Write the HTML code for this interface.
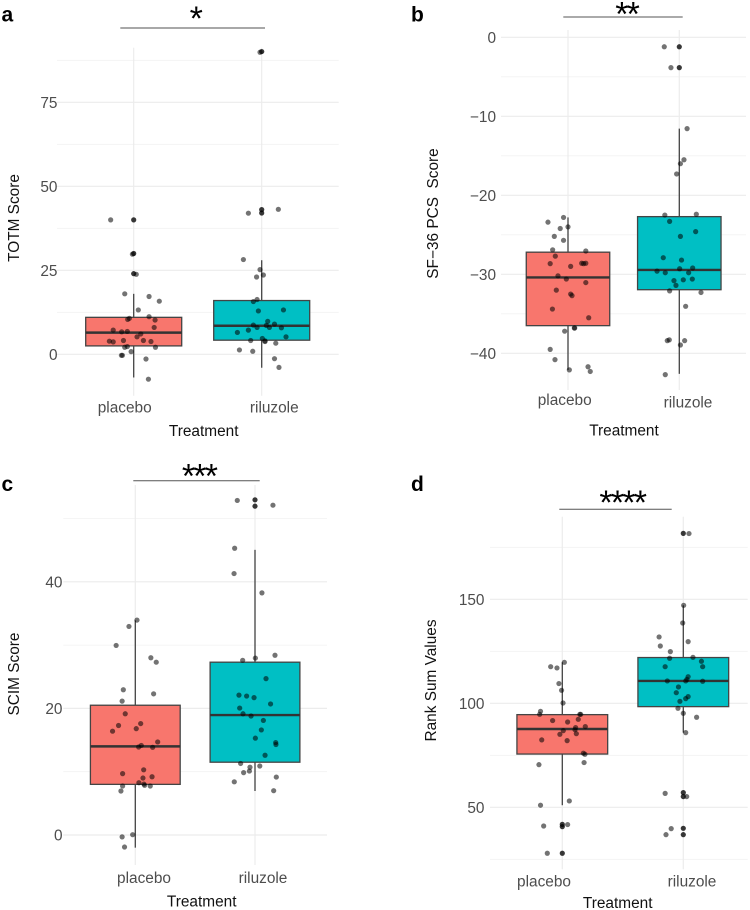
<!DOCTYPE html>
<html lang="en">
<head>
<meta charset="utf-8">
<title>Treatment comparison box plots</title>
<style>
html,body{margin:0;padding:0;background:#fff;}
svg{display:block;font-family:"Liberation Sans",sans-serif;filter:blur(0.35px);}
</style>
</head>
<body>
<svg id="figure" xmlns="http://www.w3.org/2000/svg" width="750" height="910" viewBox="0 0 750 910"></svg>
<script>
// Panel a: TOTM
const aMajorTicks = [0, 25, 50, 75];
const aMinorTicks = [12.5, 37.5, 62.5, 87.5];
const aPlaceboBox = [-6.9, 2.5, 6.45, 11.0, 18.0];
const aRiluzoleBox = [-4.0, 4.2, 8.5, 16.0, 28.0];
const aPlaceboOutliers = [40.0, 30.0, 24.0];
const aRiluzoleOutliers = [90.1, 43.06, 42.06];
const aPlaceboValues = [40.0, 29.8, 23.8, 18.0, 17.2, 15.8, 13.2, 11.2, 10.7, 10.4, 10.2, 8.0, 7.2, 6.7, 6.8, 6.05, 5.2, 3.9, 3.7, 4.1, 4.1, 3.8, 2.1, 2.3, 2.1, 0.8, -0.3, -0.3, -1.4, -7.4];
const aPlaceboJitter = [-0.18, -0.01, 0.02, -0.07, 0.12, 0.2, 0.036, 0.12, -0.034, -0.047, 0.167, 0.16, -0.16, -0.094, -0.05, 0.055, 0.026, -0.19, -0.16, -0.08, 0.076, 0.135, -0.07, -0.05, 0.17, -0.02, -0.096, -0.088, 0.096, 0.115];
const aRiluzoleValues = [89.9, 42.0, 43.15, 28.2, 25.2, 23.6, 23.0, 16.3, 15.7, 12.9, 13.2, 9.8, 9.0, 8.7, 8.0, 8.6, 8.0, 7.9, 7.2, 6.5, 5.2, 4.7, 4.1, 4.0, 3.8, 3.3, 1.3, 0.9, -1.3, -3.9];
const aRiluzoleJitter = [-0.013, -0.104, 0.13, -0.143, -0.013, 0.013, -0.04, -0.036, -0.065, -0.026, 0.17, 0.047, 0.1, -0.065, -0.036, 0.036, 0.06, 0.154, -0.104, -0.19, 0.19, 0.005, -0.086, 0.026, 0.026, 0.11, -0.174, -0.07, 0.1, 0.135];

// Panel b: SF-36 PCS
const bMajorTicks = [0, -10, -20, -30, -40];
const bMinorTicks = [-5, -15, -25, -35];
const bPlaceboBox = [-42.1, -36.5, -30.4, -27.2, -22.8];
const bRiluzoleBox = [-42.6, -31.95, -29.45, -22.7, -11.56];
const bPlaceboOutliers = [];
const bRiluzoleOutliers = [-1.2, -3.84];
const bPlaceboValues = [-23.4, -22.8, -24.0, -24.2, -25.2, -25.7, -26.9, -27.05, -27.7, -28.65, -29.0, -28.6, -28.65, -28.6, -30.2, -30.6, -31.05, -32.0, -32.5, -32.7, -34.4, -35.5, -36.8, -36.8, -37.2, -39.5, -40.8, -42.1, -41.7, -42.3];
const bPlaceboJitter = [-0.18, -0.04, 0, -0.07, -0.123, -0.04, -0.138, 0.16, -0.114, -0.16, 0.024, 0.123, 0.14, 0.16, -0.09, -0.015, 0.16, -0.105, 0.024, 0.036, -0.14, 0.186, 0.06, 0.057, -0.03, -0.16, -0.117, 0.012, 0.18, 0.2];
const bRiluzoleValues = [-1.2, -3.84, -11.56, -15.5, -16.0, -17.3, -22.5, -22.4, -23.3, -24.6, -25.2, -27.9, -28.2, -29.2, -29.3, -29.6, -29.8, -29.8, -30.8, -30.7, -30.6, -31.4, -32.1, -32.3, -34.05, -38.4, -38.3, -38.4, -38.95, -42.7];
const bRiluzoleJitter = [-0.135, -0.075, 0.07, 0.042, 0.01, -0.024, -0.13, 0.153, -0.087, 0.147, 0.01, -0.144, 0.02, 0.12, 0.003, -0.2, -0.126, 0.084, -0.048, 0.036, 0.117, -0.03, -0.087, 0.195, 0.057, 0.048, -0.09, -0.108, 0.01, -0.126];

// Panel c: SCIM
const cMajorTicks = [0, 20, 40];
const cMinorTicks = [10, 30, 50];
const cPlaceboBox = [-2.0, 8.0, 14.0, 20.5, 33.9];
const cRiluzoleBox = [6.95, 11.5, 18.95, 27.3, 45.05];
const cPlaceboOutliers = [];
const cRiluzoleOutliers = [52.95, 51.95];
const cPlaceboValues = [33.95, 32.95, 29.95, 28.0, 27.3, 22.95, 22.3, 21.15, 19.15, 17.6, 17.3, 16.8, 16.4, 14.7, 14.15, 13.9, 13.85, 10.3, 9.7, 9.2, 9.0, 8.26, 8.05, 7.85, 7.74, 7.74, 6.95, 0.05, -0.3, -1.9];
const cPlaceboJitter = [0.014, -0.053, -0.16, 0.13, 0.175, -0.1, 0.153, -0.11, -0.084, 0.045, -0.14, 0.008, -0.19, 0.187, 0.05, 0.028, 0.145, 0.07, -0.106, 0.14, 0.064, 0.03, 0.072, 0.078, 0.125, -0.106, -0.12, -0.022, -0.11, -0.09];
const cRiluzoleValues = [52.85, 52.1, 45.3, 41.3, 38.25, 28.4, 27.95, 27.6, 24.7, 22.1, 21.95, 21.7, 20.7, 20.05, 19.15, 18.8, 18.1, 16.6, 15.3, 14.6, 14.3, 12.6, 11.3, 10.7, 10.9, 10.1, 9.85, 9.15, 8.4, 7.0];
const cRiluzoleJitter = [-0.148, 0.15, -0.17, -0.175, 0.058, 0.167, 0.003, -0.103, 0.092, -0.134, -0.07, -0.008, 0.13, -0.128, -0.1, -0.033, 0.07, 0.053, 0.003, 0.173, 0.175, 0.084, -0.12, -0.042, 0.04, -0.047, -0.095, 0.178, -0.173, 0.156];

// Panel d: Rank sum
const dMajorTicks = [50, 100, 150];
const dMinorTicks = [25, 75, 125, 175];
const dPlaceboBox = [51.0, 75.6, 87.65, 94.55, 119.7];
const dRiluzoleBox = [85.9, 98.4, 110.75, 122.0, 147.1];
const dPlaceboOutliers = [41.8, 40.7, 27.9];
const dRiluzoleOutliers = [181.7, 57.05, 55.15, 39.9, 36.85];
const dPlaceboValues = [119.7, 117.6, 117.0, 109.5, 106.25, 100.15, 96.15, 94.7, 94.7, 94.7, 92.3, 91.7, 91.0, 88.3, 87.3, 86.85, 88.8, 85.1, 85.4, 82.4, 82.05, 76.0, 75.5, 71.5, 70.5, 53.05, 51.0, 41.0, 41.7, 27.9];
const dPlaceboJitter = [0.017, -0.096, -0.044, -0.028, -0.006, 0.006, -0.18, -0.187, 0.145, 0.152, 0.132, -0.08, 0.044, 0.11, 0.105, 0.008, 0.19, -0.02, 0.116, -0.17, 0.04, 0.174, 0.187, 0.18, -0.193, 0.058, -0.18, -0.154, 0.044, -0.124];
const dRiluzoleValues = [181.6, 147.1, 138.6, 131.9, 127.55, 129.65, 124.85, 122.1, 121.65, 120.2, 117.6, 117.6, 112.8, 111.5, 110.75, 110.75, 110.6, 107.85, 105.1, 103.2, 102.25, 100.95, 97.6, 95.2, 93.3, 85.9, 56.7, 55.15, 39.75, 36.85];
const dRiluzoleJitter = [0.047, 0.003, -0.005, -0.2, -0.19, 0.04, -0.107, 0.08, -0.113, 0.15, -0.15, 0.16, 0.04, 0.03, 0.02, -0.132, 0.16, -0.04, -0.058, 0.04, 0.02, -0.028, -0.044, 0, 0.11, 0.02, -0.15, 0.028, -0.1, -0.143];

const categories = ['placebo', 'riluzole'];

const NS = 'http://www.w3.org/2000/svg';
const figure = document.getElementById('figure');

function make(tag, parent, attrs, text) {
  const node = document.createElementNS(NS, tag);
  for (const k in attrs) node.setAttribute(k, attrs[k]);
  if (text !== undefined) node.textContent = text;
  parent.appendChild(node);
  return node;
}

const panels = [
  { key: 'a', title: 'TOTM Score', zeroY: 354.3, k: 3.36, cx: 133.7, step: 128, left: 57, right: 338.7, top: 47.7, bottom: 395.7,
    major: aMajorTicks, minor: aMinorTicks,
    box: [aPlaceboBox, aRiluzoleBox], outliers: [aPlaceboOutliers, aRiluzoleOutliers],
    values: [aPlaceboValues, aRiluzoleValues], jitter: [aPlaceboJitter, aRiluzoleJitter],
    letterX: 1.5, letterY: 21.7, tickRight: 57.5, catX: [124.7, 274.3], catY: [412.5, 412.5],
    xTitleX: 203.7, xTitleY: 436, yTitleX: 19, yTitleY: 218,
    brX1: 120.3, brX2: 265, brY: 28, brColor: '#a8a8a8', brWidth: 2, stars: '*', starX: 195.3, starY: 30 },
  { key: 'b', title: 'SF\u221236 PCS  Score', zeroY: 37.3, k: 7.9, cx: 568, step: 111.3, left: 501, right: 746, top: 30, bottom: 390,
    major: bMajorTicks, minor: bMinorTicks,
    box: [bPlaceboBox, bRiluzoleBox], outliers: [bPlaceboOutliers, bRiluzoleOutliers],
    values: [bPlaceboValues, bRiluzoleValues], jitter: [bPlaceboJitter, bRiluzoleJitter],
    letterX: 411, letterY: 21.7, tickRight: 496, catX: [564.7, 688], catY: [405, 407.7],
    xTitleX: 624, xTitleY: 435.7, yTitleX: 438, yTitleY: 213.5,
    brX1: 563.3, brX2: 682.7, brY: 17, brColor: '#555', brWidth: 1, stars: '**', starX: 626.7, starY: 25.4 },
  { key: 'c', title: 'SCIM Score', zeroY: 835, k: 6.33, cx: 135.3, step: 119.7, left: 63.3, right: 327, top: 485, bottom: 865,
    major: cMajorTicks, minor: cMinorTicks,
    box: [cPlaceboBox, cRiluzoleBox], outliers: [cPlaceboOutliers, cRiluzoleOutliers],
    values: [cPlaceboValues, cRiluzoleValues], jitter: [cPlaceboJitter, cRiluzoleJitter],
    letterX: 1.5, letterY: 491, tickRight: 62.5, catX: [144, 263], catY: [883, 883],
    xTitleX: 201.7, xTitleY: 906.7, yTitleX: 19, yTitleY: 674,
    brX1: 133.3, brX2: 259.7, brY: 480.7, brColor: '#555', brWidth: 1, stars: '***', starX: 199, starY: 487.4 },
  { key: 'd', title: 'Rank Sum Values', zeroY: 911.3, k: 2.08, cx: 562.3, step: 121, left: 490, right: 747.7, top: 516.7, bottom: 869.3,
    major: dMajorTicks, minor: dMinorTicks,
    box: [dPlaceboBox, dRiluzoleBox], outliers: [dPlaceboOutliers, dRiluzoleOutliers],
    values: [dPlaceboValues, dRiluzoleValues], jitter: [dPlaceboJitter, dRiluzoleJitter],
    letterX: 411, letterY: 491, tickRight: 484.5, catX: [544, 692], catY: [886.7, 886.7],
    xTitleX: 617.7, xTitleY: 908, yTitleX: 436, yTitleY: 680.5,
    brX1: 559.3, brX2: 671.7, brY: 509.3, brColor: '#555', brWidth: 1, stars: '****', starX: 622.3, starY: 514 }
];

const fills = ['#F8766D', '#00BFC4'];
const BOX_WIDTH = 0.75;

panels.forEach(function (p) {
  const yScale = function (v) { return p.zeroY - v * p.k; };
  const xScale = function (c) { return p.cx + c * p.step; };

  const panel = make('g', figure, {});
  
  

  // Minor grid
  p.minor.forEach(function (t) {
    const line = make('line', panel, { x1: p.left, x2: p.right, y1: yScale(t), y2: yScale(t), stroke: '#f2f2f2', 'stroke-width': 0.8 });
    
    
  });
  // Major grid
  p.major.forEach(function (t) {
    const line = make('line', panel, { x1: p.left, x2: p.right, y1: yScale(t), y2: yScale(t), stroke: '#ececec', 'stroke-width': 1.2 });
    
    
    const label = make('text', panel, { x: p.tickRight, y: yScale(t) + 5.5, 'text-anchor': 'end', 'font-size': 15.4, fill: '#4d4d4d' }, String(t).replace('-', '\u2212'));
    
    
  });

  categories.forEach(function (name, c) {
    const cx = xScale(c);
    const grid = make('line', panel, { x1: cx, x2: cx, y1: p.top, y2: p.bottom, stroke: '#ececec', 'stroke-width': 1.2 });
    
    

    const stats = p.box[c];
    const halfW = BOX_WIDTH * p.step / 2;

    const whiskerUp = make('line', panel, { x1: cx, x2: cx, y1: yScale(stats[3]), y2: yScale(stats[4]), stroke: '#444', 'stroke-width': 1.3 });
    
    
    const whiskerDown = make('line', panel, { x1: cx, x2: cx, y1: yScale(stats[1]), y2: yScale(stats[0]), stroke: '#444', 'stroke-width': 1.3 });
    
    

    const rect = make('rect', panel, { x: cx - halfW, y: yScale(stats[3]), width: halfW * 2, height: yScale(stats[1]) - yScale(stats[3]), fill: fills[c], stroke: '#444', 'stroke-width': 1.3 });
    
    

    const median = make('line', panel, { x1: cx - halfW, x2: cx + halfW, y1: yScale(stats[2]), y2: yScale(stats[2]), stroke: '#333', 'stroke-width': 2.4 });
    
    

    p.outliers[c].forEach(function (v) {
      const o = make('circle', panel, { cx: cx, cy: yScale(v), r: 2.6, fill: '#000', 'fill-opacity': 0.78 });
      
      
    });
    p.values[c].forEach(function (v, i) {
      const pt = make('circle', panel, { cx: xScale(c + p.jitter[c][i]), cy: yScale(v), r: 2.6, fill: '#000', 'fill-opacity': 0.55 });
      
      
    });

    const cat = make('text', panel, { x: p.catX[c], y: p.catY[c], 'text-anchor': 'middle', 'font-size': 15.4, fill: '#4d4d4d' }, name);
    
    
  });

  const xTitle = make('text', panel, { x: p.xTitleX, y: p.xTitleY, 'text-anchor': 'middle', 'font-size': 15.4, fill: '#111' }, 'Treatment');
  
  

  const yTitle = make('text', panel, { x: 0, y: 0, 'text-anchor': 'middle', 'font-size': 15.4, fill: '#111', style: 'white-space:pre', transform: 'translate(' + p.yTitleX + ' ' + p.yTitleY + ') rotate(-90)' }, p.title);
  
  

  const letter = make('text', panel, { x: p.letterX, y: p.letterY, 'font-size': 21, 'font-weight': 'bold', fill: '#000' }, p.key);
  
  

  const bracket = make('line', panel, { x1: p.brX1, x2: p.brX2, y1: p.brY, y2: p.brY, stroke: p.brColor, 'stroke-width': p.brWidth });
  
  

  const stars = make('text', panel, { x: p.starX, y: p.starY, 'text-anchor': 'middle', 'font-size': 34, 'letter-spacing': '-1.8px', fill: '#000' }, p.stars);
  
  
});
</script>
</body>
</html>
